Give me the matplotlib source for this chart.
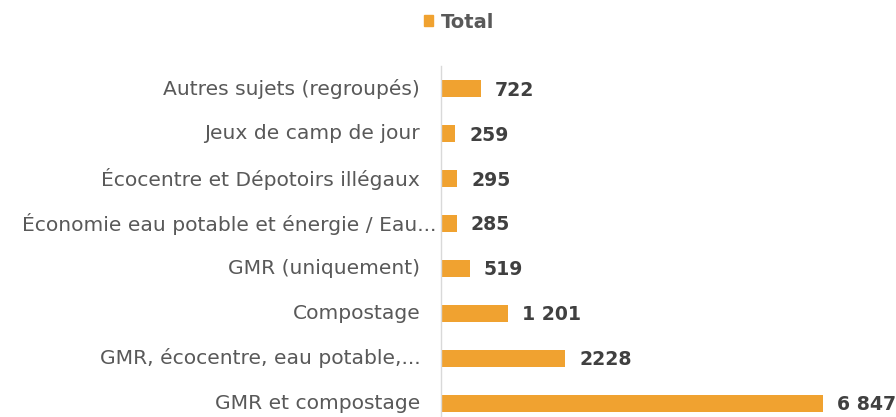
import matplotlib

matplotlib.use("Agg")
import matplotlib.pyplot as plt
from matplotlib.patches import Patch
from matplotlib.transforms import ScaledTranslation

# Catégories, du bas vers le haut
categories = [
    "GMR et compostage",
    "GMR, écocentre, eau potable,...",
    "Compostage",
    "GMR (uniquement)",
    "Économie eau potable et énergie / Eau...",
    "Écocentre et Dépotoirs illégaux",
    "Jeux de camp de jour",
    "Autres sujets (regroupés)",
]
totals = [6847, 2228, 1201, 519, 285, 295, 259, 722]
value_labels = ["6 847", "2228", "1 201", "519", "285", "295", "259", "722"]

ORANGE = "#F0A230"
LABEL = "#595959"
VALUE = "#404040"
AXIS = "#D9D9D9"

plt.rcParams["font.family"] = ["DejaVu Sans"]

W, H = 896, 417
fig = plt.figure(figsize=(W / 100, H / 100), dpi=100)
left, top, bottom, right = 441, 66, 417, 896
ax = fig.add_axes([left / W, 1 - bottom / H, (right - left) / W, (bottom - top) / H])

pos = range(len(categories))
ax.barh(pos, totals, height=0.38, color=ORANGE)

ax.set_ylim(-0.31, 7.51)
ax.set_xlim(0, 6847 * (right - left) / (823 - left))

ax.set_yticks(list(pos))
ax.set_yticklabels(categories, fontsize=14.6, color=LABEL)
ax.tick_params(axis="y", length=0, pad=15)
ax.set_xticks([])
# remonter un peu les libellés; le libellé tronqué déborde jusqu'à l'axe
for i, t in enumerate(ax.get_yticklabels()):
    dx = 16 / 100 if i == 4 else 0
    t.set_transform(t.get_transform() + ScaledTranslation(dx, 2 / 100, fig.dpi_scale_trans))

for side in ("top", "right", "bottom"):
    ax.spines[side].set_visible(False)
ax.spines["left"].set_color(AXIS)
ax.spines["left"].set_linewidth(1)

for p, v, lab in zip(pos, totals, value_labels):
    ax.annotate(lab, (v, p), xytext=(10, -1), textcoords="offset points",
                va="center", ha="left", fontsize=13.6, fontweight="bold",
                color=VALUE)

fig.legend(handles=[Patch(color=ORANGE, label="Total")],
           loc="center", bbox_to_anchor=(459 / W, 1 - 22 / H), frameon=False,
           handlelength=0.5, handleheight=0.5, handletextpad=0.4,
           prop={"size": 14, "weight": "bold"}, labelcolor=LABEL)

fig.savefig("out.png", dpi=100)
